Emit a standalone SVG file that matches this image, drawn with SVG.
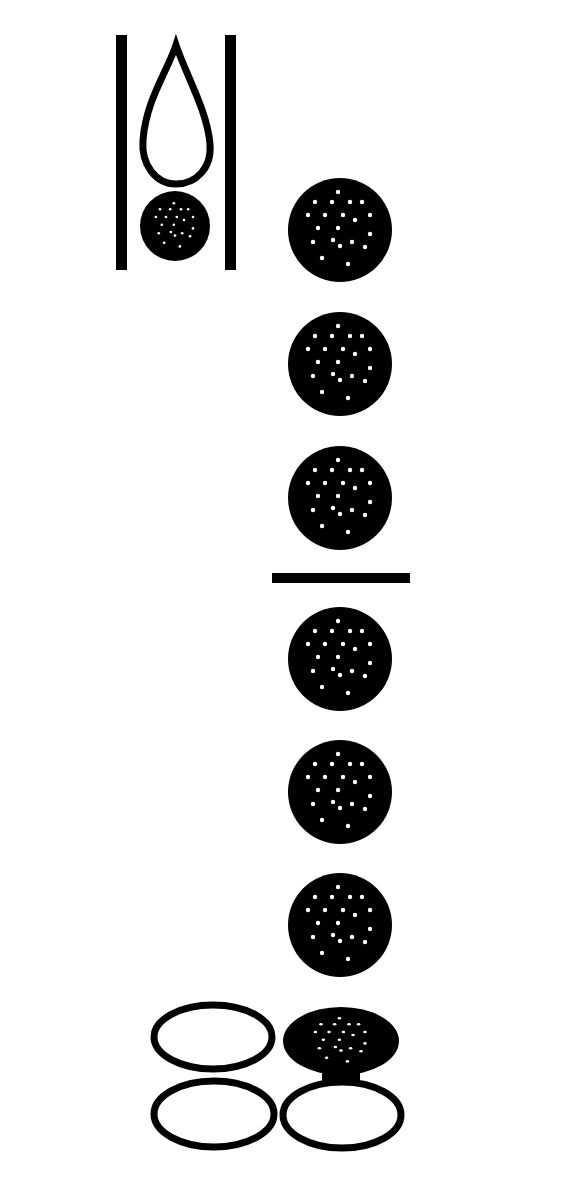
<svg xmlns="http://www.w3.org/2000/svg" xmlns:xlink="http://www.w3.org/1999/xlink" width="578" height="1200" viewBox="0 0 578 1200">
<style>
.bar{fill:#000}
.open{fill:#fff;stroke:#000;stroke-width:7}
.dot{fill:#fff}
</style>
<defs>
<g id="dots">
<circle class="dot" cx="-2" cy="-38" r="2.2"/>
<circle class="dot" cx="-25" cy="-28" r="2.2"/>
<circle class="dot" cx="-8" cy="-28" r="2.2"/>
<circle class="dot" cx="10" cy="-28" r="2.2"/>
<circle class="dot" cx="22" cy="-28" r="2.2"/>
<circle class="dot" cx="-32" cy="-15" r="2.2"/>
<circle class="dot" cx="-15" cy="-15" r="2.2"/>
<circle class="dot" cx="3" cy="-15" r="2.2"/>
<circle class="dot" cx="15" cy="-10" r="2.2"/>
<circle class="dot" cx="30" cy="-15" r="2.2"/>
<circle class="dot" cx="-22" cy="-2" r="2.2"/>
<circle class="dot" cx="-2" cy="-2" r="2.2"/>
<circle class="dot" cx="30" cy="4" r="2.2"/>
<circle class="dot" cx="-27" cy="12" r="2.2"/>
<circle class="dot" cx="-7" cy="10" r="2.2"/>
<circle class="dot" cx="0" cy="16" r="2.2"/>
<circle class="dot" cx="12" cy="12" r="2.2"/>
<circle class="dot" cx="25" cy="17" r="2.2"/>
<circle class="dot" cx="-18" cy="28" r="2.2"/>
<circle class="dot" cx="8" cy="34" r="2.2"/>
</g>
<g id="big">
<circle cx="0" cy="0" r="52" fill="#000"/>
<use xlink:href="#dots"/>
</g>
</defs>
<rect width="578" height="1200" fill="#fff"/>
<g id="glyph-top">
<rect class="bar" x="116" y="35" width="11" height="235"/>
<rect class="bar" x="225" y="35" width="11" height="235"/>
<path class="open" d="M176 45 C168 70 146 100 143 140 C141 165 156 184 176 184 C196 184 212 168 210 144 C207 110 186 75 176 45 Z"/>
<circle cx="175" cy="226" r="35" fill="#000"/>
<g transform="translate(175,226) scale(0.6)"><use xlink:href="#dots"/></g>
</g>
<g id="circles">
<use xlink:href="#big" x="340" y="230"/>
<use xlink:href="#big" x="340" y="364"/>
<use xlink:href="#big" x="340" y="498"/>
<rect class="bar" x="272" y="573" width="138" height="10"/>
<use xlink:href="#big" x="340" y="659"/>
<use xlink:href="#big" x="340" y="792"/>
<use xlink:href="#big" x="340" y="925"/>
</g>
<g id="ellipses">
<ellipse class="open" cx="213" cy="1037" rx="59" ry="32"/>
<ellipse class="open" cx="214" cy="1114" rx="60" ry="33"/>
<ellipse class="open" cx="342" cy="1115" rx="59" ry="33"/>
<ellipse cx="341" cy="1041" rx="58" ry="34" fill="#000"/>
<rect x="322" y="1060" width="38" height="22" fill="#000"/>
<g transform="translate(341,1041) scale(0.8,0.6)"><use xlink:href="#dots"/></g>
</g>
</svg>
